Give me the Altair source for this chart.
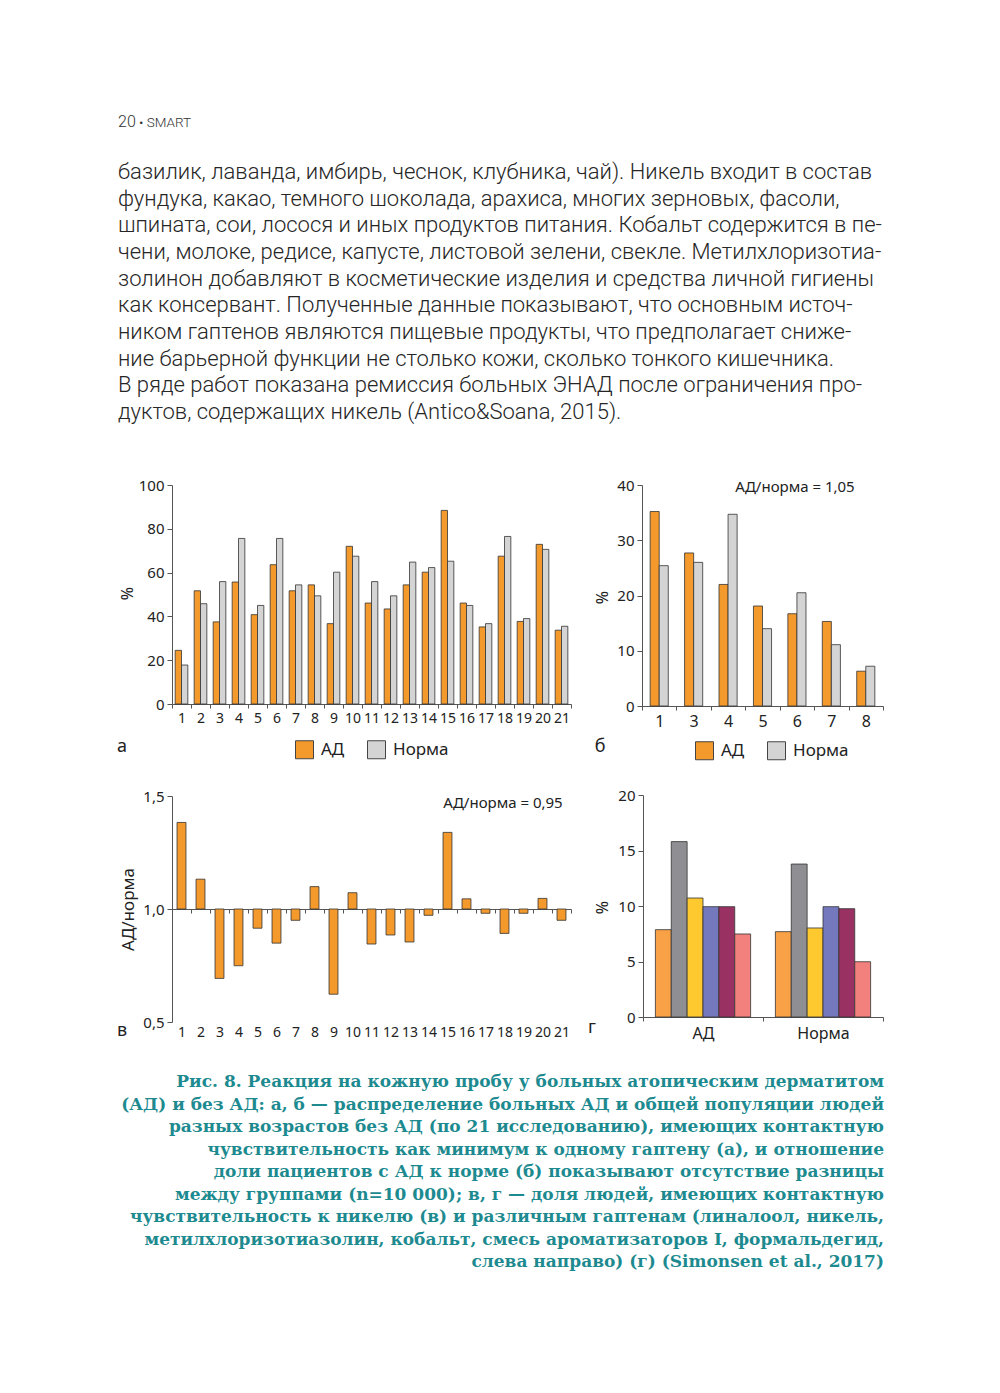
import altair as alt
import pandas as pd

# ---------------- data ----------------
header_num = "20"
header_name = "• SMART"

paragraph_lines = [
    "базилик, лаванда, имбирь, чеснок, клубника, чай). Никель входит в состав",
    "фундука, какао, темного шоколада, арахиса, многих зерновых, фасоли,",
    "шпината, сои, лосося и иных продуктов питания. Кобальт содержится в пе-",
    "чени, молоке, редисе, капусте, листовой зелени, свекле. Метилхлоризотиа-",
    "золинон добавляют в косметические изделия и средства личной гигиены",
    "как консервант. Полученные данные показывают, что основным источ-",
    "ником гаптенов являются пищевые продукты, что предполагает сниже-",
    "ние барьерной функции не столько кожи, сколько тонкого кишечника.",
    "В ряде работ показана ремиссия больных ЭНАД после ограничения про-",
    "дуктов, содержащих никель (Antico&Soana, 2015).",
]

caption_lines = [
    "Рис. 8. Реакция на кожную пробу у больных атопическим дерматитом",
    "(АД) и без АД: а, б — распределение больных АД и общей популяции людей",
    "разных возрастов без АД (по 21 исследованию), имеющих контактную",
    "чувствительность как минимум к одному гаптену (а), и отношение",
    "доли пациентов с АД к норме (б) показывают отсутствие разницы",
    "между группами (n=10 000); в, г — доля людей, имеющих контактную",
    "чувствительность к никелю (в) и различным гаптенам (линалоол, никель,",
    "метилхлоризотиазолин, кобальт, смесь ароматизаторов I, формальдегид,",
    "слева направо) (г) (Simonsen et al., 2017)",
]

groups = ["АД", "Норма"]

studies = [str(i) for i in range(1, 22)]
ad_a = [24.5, 51.7, 37.5, 55.7, 40.8, 63.6, 51.7, 54.4, 36.7, 72.0, 46.1,
        43.4, 54.4, 60.2, 88.4, 46.1, 35.2, 67.5, 37.7, 72.9, 33.7]
norm_a = [17.8, 45.8, 55.9, 75.6, 45.0, 75.6, 54.4, 49.4, 60.2, 67.5, 55.9,
          49.4, 64.8, 62.3, 65.2, 45.0, 36.7, 76.5, 39.0, 70.6, 35.5]

ages_b = ["1", "3", "4", "5", "6", "7", "8"]
ad_b = [35.2, 27.7, 22.0, 18.1, 16.7, 15.3, 6.3]
norm_b = [25.4, 26.0, 34.7, 14.0, 20.5, 11.1, 7.2]

ratio_v = [1.383, 1.132, 0.693, 0.749, 0.915, 0.849, 0.950, 1.099, 0.623, 1.072, 0.845,
           0.885, 0.854, 0.972, 1.339, 1.045, 0.981, 0.892, 0.981, 1.047, 0.950]

haptens = ["линалоол", "никель", "метилхлоризотиазолин", "кобальт",
           "смесь ароматизаторов I", "формальдегид"]
ad_g = [7.87, 15.8, 10.72, 9.94, 9.94, 7.48]
norm_g = [7.69, 13.78, 8.02, 9.94, 9.76, 4.98]

panel_letters = ["а", "б", "в", "г"]
note_b = "АД/норма = 1,05"
note_v = "АД/норма = 0,95"

# ---------------- styles ----------------
W, H = 984, 1377
FONT = "Noto Sans"
BODY_FONT = "Roboto"
ORANGE = "#F4992B"
LGRAY = "#D4D4D4"
HAPTEN_COLORS = ["#F9A146", "#8F8F93", "#FDC92E", "#7478BC", "#993263", "#F2807D"]
TEAL = "#1D8A90"
STROKE = "#333333"

df_a = pd.DataFrame({"study": studies * 2,
                     "group": [groups[0]] * len(studies) + [groups[1]] * len(studies),
                     "value": ad_a + norm_a})
df_b = pd.DataFrame({"age": ages_b * 2,
                     "group": [groups[0]] * len(ages_b) + [groups[1]] * len(ages_b),
                     "value": ad_b + norm_b})
df_v = pd.DataFrame({"study": studies, "ratio": ratio_v})
df_g = pd.DataFrame({"grp": [groups[0]] * len(haptens) + [groups[1]] * len(haptens),
                     "hapten": haptens * 2,
                     "value": ad_g + norm_g})

def yaxis(offset, values, title, tx, ty, **kw):
    return alt.Axis(orient="left", offset=offset, values=values, title=title,
                    titleX=tx, titleY=ty, titleAngle=-90, titleAlign="center",
                    titleBaseline="middle", tickSize=5, labelPadding=3, **kw)

def xaxis(offset, **kw):
    base = dict(orient="bottom", offset=offset, title=None, labelAngle=0,
                tickBand="extent", tickSize=4, labelOverlap=False)
    base.update(kw)
    return alt.Axis(**base)

def legend(x, y):
    return alt.Legend(orient="none", legendX=x, legendY=y, direction="horizontal",
                      title=None, symbolType="square", symbolSize=324,
                      symbolStrokeColor="#444", symbolStrokeWidth=1,
                      labelFontSize=17, labelFont=FONT, labelColor="#222",
                      columnPadding=20, labelOffset=7, padding=0)

# ---- panel а ----
bars_a = alt.Chart(df_a).mark_bar(stroke=STROKE, strokeWidth=0.8).encode(
    x=alt.X("study:N", sort=studies,
            scale=alt.Scale(range=[164, 563], paddingInner=0, paddingOuter=0),
            axis=xaxis(696 - H, labelPadding=3, labelFontSize=14)),
    xOffset=alt.XOffset("group:N", sort=groups,
                        scale=alt.Scale(paddingInner=0, paddingOuter=0.5)),
    y=alt.Y("value:Q", scale=alt.Scale(domain=[0, 100], range=[696, 477]),
            axis=yaxis(-164, [0, 20, 40, 60, 80, 100], "%", -45, 585)),
    color=alt.Color("group:N", sort=groups,
                    scale=alt.Scale(domain=groups, range=[ORANGE, LGRAY]),
                    legend=legend(287, 732)),
)

# ---- panel б ----
bars_b = alt.Chart(df_b).mark_bar(stroke=STROKE, strokeWidth=0.8).encode(
    x=alt.X("age:N", sort=ages_b,
            scale=alt.Scale(range=[634, 875], paddingInner=0, paddingOuter=0),
            axis=xaxis(698 - H, labelPadding=3, labelFontSize=16)),
    xOffset=alt.XOffset("group:N", sort=groups,
                        scale=alt.Scale(paddingInner=0, paddingOuter=0.9)),
    y=alt.Y("value:Q", scale=alt.Scale(domain=[0, 40], range=[698, 477]),
            axis=yaxis(-634, [0, 10, 20, 30, 40], "%", -40, 589)),
    color=alt.Color("group:N", sort=groups,
                    scale=alt.Scale(domain=groups, range=[ORANGE, LGRAY]),
                    legend=legend(687, 733)),
)

# ---- panel в ----
bars_v = alt.Chart(df_v).mark_bar(color=ORANGE, stroke=STROKE, strokeWidth=0.8,
                                  width=alt.RelativeBandSize(0.47)).encode(
    x=alt.X("study:N", sort=studies,
            scale=alt.Scale(range=[164, 563], paddingInner=0, paddingOuter=0),
            axis=xaxis(901 - H, labelPadding=112, labelFontSize=14)),
    y=alt.Y("ratio:Q", scale=alt.Scale(domain=[0.5, 1.5], range=[1014, 788]),
            axis=yaxis(-164, [0.5, 1.0, 1.5], "АД/норма", -44, 901,
                       labelExpr="replace(format(datum.value, '.1f'), '.', ',')",
                       titleFontSize=17)),
    y2=alt.datum(1.0),
)

# ---- panel г ----
bars_g = alt.Chart(df_g).mark_bar(stroke=STROKE, strokeWidth=0.8).encode(
    x=alt.X("grp:N", sort=groups,
            scale=alt.Scale(range=[635, 875], paddingInner=0, paddingOuter=0),
            axis=xaxis(1009 - H, labelPadding=4, labelFontSize=16)),
    xOffset=alt.XOffset("hapten:N", sort=haptens,
                        scale=alt.Scale(paddingInner=0, paddingOuter=0.78)),
    y=alt.Y("value:Q", scale=alt.Scale(domain=[0, 20], range=[1009, 787]),
            axis=yaxis(-635, [0, 5, 10, 15, 20], "%", -41, 899)),
    color=alt.Color("hapten:N", sort=haptens,
                    scale=alt.Scale(domain=haptens, range=HAPTEN_COLORS),
                    legend=None),
)

# ---- texts ----
one = alt.Data(values=[{}])

def txt(text, x, y, size, **kw):
    return alt.Chart(one).mark_text(text=text, fontSize=size, **kw).encode(
        x=alt.value(x), y=alt.value(y))

texts = [
    txt(header_num, 110, 119, 16, font=BODY_FONT, fontWeight=300, color="#333",
        align="left", baseline="alphabetic"),
    txt(header_name, 131, 119, 13.5, font=BODY_FONT, fontWeight=300, color="#333",
        align="left", baseline="alphabetic"),
    txt(paragraph_lines, 110, 171, 22, font=BODY_FONT, fontWeight=300, color="#262626",
        align="left", baseline="alphabetic", lineHeight=26.67),
    txt(caption_lines, 876, 1079, 17, font="DejaVu Serif", fontWeight="bold", color=TEAL,
        align="right", baseline="alphabetic", lineHeight=22.5),
    txt(note_b, 787, 479, 15, font=FONT, color="#222", align="center", baseline="middle"),
    txt(note_v, 495, 795, 15, font=FONT, color="#222", align="center", baseline="middle"),
    txt(panel_letters[0], 114, 739, 18, font=FONT, color="#222", align="center", baseline="middle"),
    txt(panel_letters[1], 592, 739, 18, font=FONT, color="#222", align="center", baseline="middle"),
    txt(panel_letters[2], 114, 1023, 18, font=FONT, color="#222", align="center", baseline="middle"),
    txt(panel_letters[3], 584, 1020, 18, font=FONT, color="#222", align="center", baseline="middle"),
]

chart = alt.layer(bars_a, bars_b, bars_v, bars_g, *texts).resolve_scale(
    x="independent", y="independent", color="independent", xOffset="independent"
).resolve_axis(x="independent", y="independent").resolve_legend(
    color="independent"
).properties(
    width=W, height=H, autosize=alt.AutoSizeParams(type="none"), padding=0,
    background="white",
).configure_view(stroke=None).configure_axis(
    grid=False, domainColor="#555", tickColor="#555", labelColor="#222",
    labelFont=FONT, labelFontSize=15, titleFont=FONT, titleColor="#222",
    titleFontWeight="normal", titleFontSize=16,
)

chart.save("out.html", embed_options={"renderer": "svg", "actions": False})
